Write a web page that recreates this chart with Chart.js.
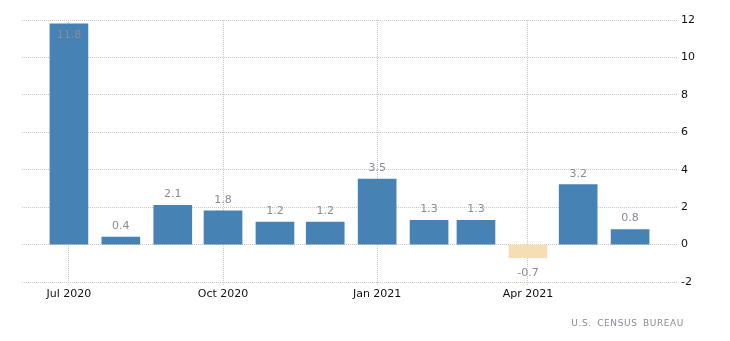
<!DOCTYPE html>
<html>
<head>
<meta charset="utf-8">
<script src="https://cdn.jsdelivr.net/npm/chart.js@4/dist/chart.umd.min.js"></script>
<style>
  html, body { margin: 0; padding: 0; background: #fff; }
  #wrap { position: relative; width: 730px; height: 341px; }
  #source { position: absolute; right: 46px; top: 318px; font: 9px "DejaVu Sans", sans-serif; color: #8a8a9a; letter-spacing: 0.6px; word-spacing: 2px; }
</style>
</head>
<body>
<div id="wrap">
  <canvas id="c" width="730" height="341"></canvas>
  <div id="source">U.S. CENSUS BUREAU</div>
</div>
<script>
const months = ['2020-07','2020-08','2020-09','2020-10','2020-11','2020-12','2021-01','2021-02','2021-03','2021-04','2021-05','2021-06'];
const values = [11.8, 0.4, 2.1, 1.8, 1.2, 1.2, 3.5, 1.3, 1.3, -0.7, 3.2, 0.8];
const tickMonths = ['2020-07','2020-10','2021-01','2021-04'];
const tickLabels = ['Jul 2020','Oct 2020','Jan 2021','Apr 2021'];
const yTicks = [-2, 0, 2, 4, 6, 8, 10, 12];

const DAY = 86400000;
const origin = Date.UTC(2020, 6, 1);
function dayOf(m) { const [y, mo] = m.split('-').map(Number); return (Date.UTC(y, mo - 1, 1) - origin) / DAY; }
const xs = months.map(dayOf);
const tickXs = tickMonths.map(dayOf);

const labelPlugin = {
  id: 'barLabels',
  afterDatasetsDraw(chart) {
    const ctx = chart.ctx;
    const meta = chart.getDatasetMeta(0);
    ctx.save();
    ctx.font = '11px "DejaVu Sans", sans-serif';
    ctx.fillStyle = '#8a8a9c';
    ctx.textAlign = 'center';
    ctx.textBaseline = 'middle';
    meta.data.forEach((bar, i) => {
      const v = values[i];
      let y;
      if (v >= 0) {
        y = (bar.y - chart.chartArea.top < 20) ? bar.y + 11 : bar.y - 11;
      } else {
        y = bar.y + 15;
      }
      ctx.fillText(v.toFixed(1), bar.x, y);
    });
    ctx.restore();
  }
};

new Chart(document.getElementById('c'), {
  type: 'bar',
  data: {
    datasets: [{
      data: xs.map((x, i) => ({ x: x, y: values[i] })),
      backgroundColor: values.map(v => v < 0 ? '#F5DEB3' : '#4682B4'),
      barThickness: 38
    }]
  },
  options: {
    responsive: false,
    animation: false,
    layout: { padding: { left: 22, top: 20, right: 0, bottom: 0 } },
    plugins: { legend: { display: false }, tooltip: { enabled: false } },
    scales: {
      x: {
        type: 'linear',
        offset: false,
        min: -28,
        max: 363,
        afterBuildTicks(scale) { scale.ticks = tickXs.map(v => ({ value: v })); },
        afterFit(scale) { scale.height = 59; },
        ticks: {
          callback(v) { const i = tickXs.indexOf(v); return i >= 0 ? tickLabels[i] : ''; },
          font: { family: 'DejaVu Sans', size: 11 },
          color: '#111',
          padding: 2,
          maxRotation: 0,
          autoSkip: false
        },
        grid: { offset: false, color: '#c8c8c8', tickLength: 4, drawTicks: true, tickBorderDash: [1, 1] },
        border: { display: false, dash: [1, 1] }
      },
      y: {
        position: 'right',
        min: -2,
        max: 12,
        afterBuildTicks(scale) { scale.ticks = yTicks.map(v => ({ value: v })); },
        afterFit(scale) { scale.width = 53; },
        ticks: {
          font: { family: 'DejaVu Sans', size: 11 },
          color: '#111',
          padding: 4
        },
        grid: { color: '#c8c8c8', drawTicks: false },
        border: { display: false, dash: [1, 1] }
      }
    }
  },
  plugins: [labelPlugin]
});
</script>
</body>
</html>
